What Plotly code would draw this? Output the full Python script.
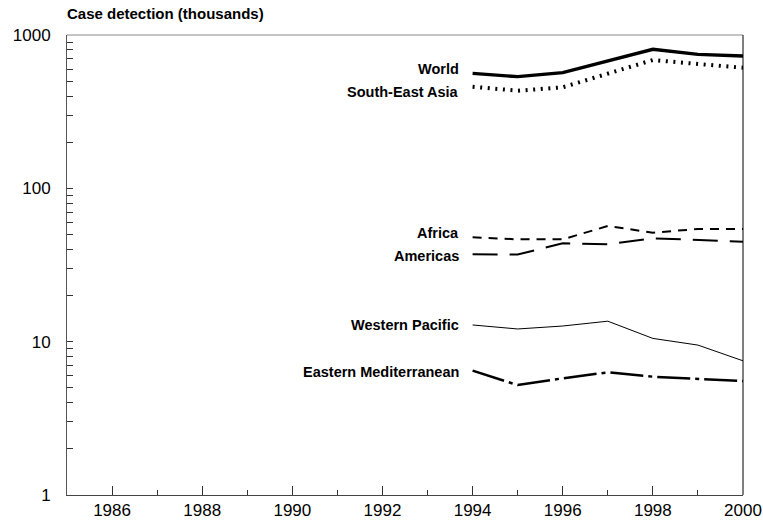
import math
import plotly.graph_objects as go

# Case detection by WHO region, thousands of cases
years = [1994, 1995, 1996, 1997, 1998, 1999, 2000]
world = [562, 535, 568, 677, 807, 748, 730]
south_east_asia = [460, 433, 456, 560, 687, 647, 612]
africa = [48.0, 46.5, 46.5, 56.8, 51.4, 54.3, 54.3]
americas = [37.1, 37.0, 43.8, 43.1, 47.2, 46.0, 44.9]
western_pacific = [12.85, 12.1, 12.65, 13.6, 10.5, 9.5, 7.5]
eastern_med = [6.47, 5.21, 5.77, 6.31, 5.91, 5.71, 5.54]

region_names = ["World", "South-East Asia", "Africa", "Americas",
                "Western Pacific", "Eastern Mediterranean"]
region_values = [world, south_east_asia, africa, americas,
                 western_pacific, eastern_med]

x_tick_vals = [1986, 1988, 1990, 1992, 1994, 1996, 1998, 2000]
y_tick_vals = [1, 10, 100, 1000]
y_tick_text = ["1", "10", "100", "1000"]

# line styling and label offsets per series
styles = {
    "World": dict(width=3.4, dash="solid"),
    "South-East Asia": dict(width=4, dash="2px,5.6px"),
    "Africa": dict(width=2, dash="9px,7px"),
    "Americas": dict(width=2, dash="25px,12px"),
    "Western Pacific": dict(width=1, dash="solid"),
    "Eastern Mediterranean": dict(width=2.5, dash="33px,5px,4px,5px"),
}
label_yshift = {
    "World": 4, "South-East Asia": -5, "Africa": 4, "Americas": -2,
    "Western Pacific": 0, "Eastern Mediterranean": -1,
}

FONT = "Liberation Sans, Arial, sans-serif"

fig = go.Figure()
for name, vals in zip(region_names, region_values):
    fig.add_trace(go.Scatter(
        x=years, y=vals, mode="lines", name=name,
        line=dict(color="black", **styles[name]),
        showlegend=False, hoverinfo="x+y+name",
    ))
    fig.add_annotation(
        x=years[0], y=math.log10(vals[0]), xref="x", yref="y",
        text="<b>%s</b>" % name, showarrow=False,
        xanchor="right", yanchor="middle", xshift=-12,
        yshift=label_yshift[name],
        font=dict(family=FONT, size=14.5, color="black"),
    )

fig.add_annotation(
    x=0, y=1, xref="paper", yref="paper", text="<b>Case detection (thousands)</b>",
    showarrow=False, xanchor="left", yanchor="bottom", yshift=11, xshift=-2,
    font=dict(family=FONT, size=15, color="black"),
)

# top and right frame lines
fig.add_shape(type="line", xref="paper", yref="paper", x0=0, x1=1, y0=1, y1=1,
              line=dict(color="#8a8a8a", width=1))
fig.add_shape(type="line", xref="paper", yref="paper", x0=1, x1=1, y0=0, y1=1,
              line=dict(color="black", width=1))

fig.update_xaxes(
    range=[1985, 2000], tickvals=x_tick_vals, ticks="inside", ticklen=9,
    tickcolor="#333", tickwidth=1, showgrid=False, zeroline=False,
    showline=True, linecolor="#444", linewidth=1, automargin=False,
    minor=dict(ticks="inside", ticklen=5, dtick=1, tick0=1985,
               tickcolor="#333", showgrid=False),
    tickfont=dict(family=FONT, size=17, color="black"),
    ticklabelstandoff=0,
)
fig.update_yaxes(
    type="log", range=[0, 3], tickvals=y_tick_vals, ticktext=y_tick_text,
    ticks="inside", ticklen=6, tickcolor="#333", tickwidth=1,
    showgrid=False, zeroline=False, showline=True, linecolor="#555", linewidth=1,
    automargin=False,
    minor=dict(ticks="inside", ticklen=6, dtick="D1", tickcolor="#333",
               showgrid=False),
    tickfont=dict(family=FONT, size=17, color="black"),
    ticklabelstandoff=12,
)

fig.update_layout(
    width=763, height=524,
    margin=dict(l=67, r=20, t=35, b=29),
    paper_bgcolor="white", plot_bgcolor="white",
    font=dict(family=FONT, color="black"),
)

fig.write_html("out.html")
